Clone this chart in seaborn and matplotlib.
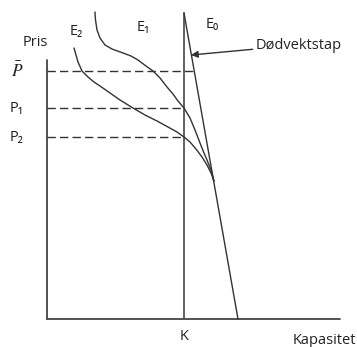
import matplotlib
matplotlib.use("Agg")
import matplotlib.pyplot as plt
import seaborn as sns

# Coordinates: x = kapasitet, y = pris (origin at the axis corner)
k_cap = 137
y_top = 259
x_end = 293
price_levels = [248, 211, 182]
price_labels = [r"$\bar{P}$", "P₁", "P₂"]
dash_ends = [147, 137, 137]

e0_x = [137, 191]
e0_y = [306, 0]

e1_x = [48, 48.5, 50, 53, 58, 65, 76, 84, 91, 99, 106, 113, 120, 126, 131, 137,
        143, 148, 153, 157, 160, 164, 167]
e1_y = [307, 299, 289, 281, 274, 270, 266, 263, 259, 253, 248, 241, 232, 225, 218, 211,
        201, 189, 176, 166, 159, 149, 138]

e2_x = [27, 29, 31, 35, 41, 47, 53, 63, 73, 86, 98, 110, 121, 130, 137,
        143, 149, 155, 160, 164, 167]
e2_y = [271, 264, 257, 248, 242, 237, 233, 226, 219, 211, 204, 198, 192, 187, 182,
        177, 170, 162, 154, 146, 138]

sns.set_theme(style="white")
plt.rcParams["font.family"] = ["Open Sans", "DejaVu Sans"]
plt.rcParams["mathtext.fontset"] = "stix"

fig = plt.figure(figsize=(3.57, 3.47), dpi=100)
ax = fig.add_axes([0, 0, 1, 1])
ax.set_xlim(-47, 310)
ax.set_ylim(-28, 319)
ax.axis("off")

line_col = "#333333"
# axes
ax.plot([0, 0], [0, y_top], color="#444444", lw=1.3)
ax.plot([0, x_end], [0, 0], color="#444444", lw=1.3)
# capacity K
ax.plot([k_cap, k_cap], [0, 306], color="#555555", lw=1.3)

# price dashes
for lvl, end in zip(price_levels, dash_ends):
    ax.plot([0, end], [lvl, lvl], color=line_col, lw=1.0, dashes=(6, 3))

sns.lineplot(x=e0_x, y=e0_y, sort=False, color=line_col, lw=1.0, ax=ax)
sns.lineplot(x=e1_x, y=e1_y, sort=False, color=line_col, lw=1.0, ax=ax)
sns.lineplot(x=e2_x, y=e2_y, sort=False, color=line_col, lw=1.0, ax=ax)

fs = 10.5
tc = "#222222"
ax.text(-12, 277, "Pris", fontsize=fs, ha="center", va="center", color=tc)
ax.text(-30, price_levels[0], price_labels[0], fontsize=fs + 2, ha="center",
        va="center", color=tc)
for lvl, lab in zip(price_levels[1:], price_labels[1:]):
    ax.text(-30, lvl, lab, fontsize=fs, ha="center", va="center", color=tc)
ax.text(29, 288, "E₂", fontsize=fs, ha="center", va="center", color=tc)
ax.text(96, 292, "E₁", fontsize=fs, ha="center", va="center", color=tc)
ax.text(165, 295, "E₀", fontsize=fs, ha="center", va="center", color=tc)
ax.text(k_cap, -17, "K", fontsize=fs, ha="center", va="center", color=tc)
ax.text(246, -21, "Kapasitet", fontsize=fs, ha="left", va="center", color=tc)
ax.annotate("Dødvektstap", xy=(144, 264), xytext=(209, 274), fontsize=fs,
            ha="left", va="center", color=tc,
            arrowprops=dict(arrowstyle="-|>", color=line_col, lw=1.0,
                            mutation_scale=10, shrinkA=0, shrinkB=0))

fig.savefig("out.png", dpi=100)
